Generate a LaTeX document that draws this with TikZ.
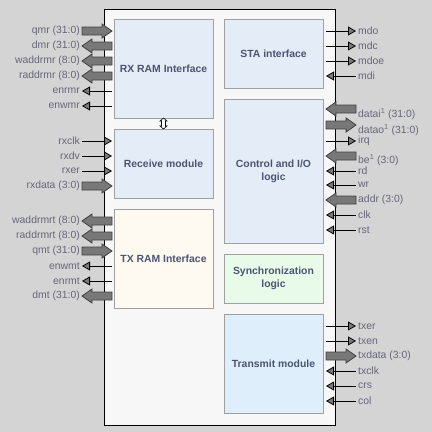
\documentclass[tikz,border=0pt]{standalone}
\usepackage{fontspec}
\setmainfont{Liberation Sans}
\usetikzlibrary{arrows.meta, calc, positioning}

\definecolor{bggray}{HTML}{D4D4D4}
\definecolor{chipfill}{HTML}{F7F7F7}
\definecolor{boxline}{HTML}{A0A0A0}
\definecolor{bluefill}{HTML}{E3ECF7}
\definecolor{txfill}{HTML}{DFEEFB}
\definecolor{creamfill}{HTML}{FEFAF2}
\definecolor{greenfill}{HTML}{E8FBE8}
\definecolor{blktext}{HTML}{4B5570}
\definecolor{pintext}{HTML}{66667A}
\definecolor{tipgray}{HTML}{7A7A7A}
\definecolor{busgray}{HTML}{787878}

\tikzset{
  blk/.style={draw=boxline, line width=1pt, outer sep=0pt, inner sep=0pt,
    minimum width=99pt, align=center, text=blktext,
    font=\bfseries\fontsize{10.4}{13}\selectfont},
  pinlabel/.style={font=\fontsize{10.4}{12}\selectfont, text=pintext, inner sep=2pt},
  sigin/.style={draw=black, line width=0.8pt,
    -{Triangle[length=8pt,width=9pt,fill=tipgray]}},
  sigout/.style={draw=black, line width=0.8pt,
    {Triangle[length=8pt,width=9pt,fill=tipgray]}-},
  % bus arrows: head at the pin (busin) or at the label (busout)
  busin/.style={draw=black!75, fill=busgray, line width=0.8pt,
    to path={let \p1=(\tikztostart), \p2=(\tikztotarget),
      \p3=($(\p2)!10pt!(\p1)$) in
      (\x1,\y2+4pt) -- (\x3,\y2+4pt) -- (\x3,\y2+7pt) -- (\x2,\y2)
      -- (\x3,\y2-7pt) -- (\x3,\y2-4pt) -- (\x1,\y2-4pt) -- cycle}},
  busout/.style={draw=black!75, fill=busgray, line width=0.8pt,
    to path={let \p1=(\tikztostart), \p2=(\tikztotarget),
      \p3=($(\p1)!10pt!(\p2)$) in
      (\x1,\y2) -- (\x3,\y2+7pt) -- (\x3,\y2+4pt) -- (\x2,\y2+4pt)
      -- (\x2,\y2-4pt) -- (\x3,\y2-4pt) -- (\x3,\y2-7pt) -- cycle}},
}

% left pin: name, y, kind, text
\newcommand{\lsig}[4]{%
  \node[pinlabel, anchor=east] (#1) at (82,#2) {#4};
  \coordinate (#1-pin) at (112,#2);
  \draw[#3] (#1.east) to (#1-pin);}
% right pin: [label options], name, y, kind, text
\newcommand{\rsig}[5][]{%
  \node[pinlabel, anchor=west, #1] (#2) at (356,#3) {#5};
  \coordinate (#2-pin) at (326,#3);
  \draw[#4] (#2.west) to (#2-pin);}

\begin{document}
\begin{tikzpicture}[x=1pt, y=-1pt]
    \fill[bggray] (0,0) rectangle (432,432); % background
    \useasboundingbox (0,0) rectangle (432,432);

    % the chip
    \draw[fill=chipfill, line width=1pt] (104,9) rectangle (335,425);

    % left column of blocks
    \node[blk, fill=bluefill, minimum height=99pt, anchor=north west] (rxram) at (114,19) {RX RAM Interface};
    \node[blk, fill=bluefill, minimum height=69pt, below=11pt of rxram] (receive) {Receive module};
    \node[blk, fill=creamfill, minimum height=99pt, below=11pt of receive] (txram) {TX RAM Interface};

    % right column of blocks
    \node[blk, fill=bluefill, minimum height=69pt, anchor=north west] (sta) at (224,19) {STA interface};
    \node[blk, fill=bluefill, minimum height=144pt, below=11pt of sta] (control) {Control and I/O\\logic};
    \node[blk, fill=greenfill, minimum height=49pt, below=11pt of control] (sync) {Synchronization\\logic};
    \node[blk, fill=txfill, minimum height=99pt, below=11pt of sync] (transmit) {Transmit module};

    % small link between RX RAM and receive module
    \coordinate (link) at ($(rxram.south)!0.5!(receive.north)$);
    \draw[fill=white, line width=0.6pt, shift={(link)}]
      (0,-5.5) -- (3.5,-2.5) -- (2,-2.5) -- (2,2.5) -- (3.5,2.5) -- (0,5.5)
      -- (-3.5,2.5) -- (-2,2.5) -- (-2,-2.5) -- (-3.5,-2.5) -- cycle;

    % RX RAM pins
    \lsig{qmr}{31}{busin}{qmr (31:0)}
    \lsig{dmr}{46}{busout}{dmr (31:0)}
    \lsig{waddrmr}{61}{busout}{waddrmr (8:0)}
    \lsig{raddrmr}{76}{busout}{raddrmr (8:0)}
    \lsig{enrmr}{91}{sigout}{enrmr}
    \lsig{enwmr}{106}{sigout}{enwmr}
    % receive pins
    \lsig{rxclk}{141}{sigin}{rxclk}
    \lsig{rxdv}{156}{sigin}{rxdv}
    \lsig{rxer}{171}{sigin}{rxer}
    \lsig{rxdata}{186}{busin}{rxdata (3:0)}
    % TX RAM pins
    \lsig{waddrmrt}{221}{busout}{waddrmrt (8:0)}
    \lsig{raddrmrt}{236}{busout}{raddrmrt (8:0)}
    \lsig{qmt}{251}{busin}{qmt (31:0)}
    \lsig{enwmt}{266}{sigout}{enwmt}
    \lsig{enrmt}{281}{sigout}{enrmt}
    \lsig{dmt}{296}{busout}{dmt (31:0)}

    % STA pins
    \rsig{mdo}{31}{sigout}{mdo}
    \rsig{mdc}{46}{sigout}{mdc}
    \rsig{mdoe}{61}{sigout}{mdoe}
    \rsig{mdi}{76}{sigin}{mdi}
    % control pins
    \rsig[yshift=-5pt]{datai}{109}{busin}{datai\textsuperscript{1} (31:0)}
    \rsig[yshift=-5pt]{datao}{125}{busout}{datao\textsuperscript{1} (31:0)}
    \rsig{irq}{141}{sigout}{irq}
    \rsig[yshift=-4pt]{be}{156}{busin}{be\textsuperscript{1} (3:0)}
    \rsig{rd}{171}{sigin}{rd}
    \rsig{wr}{185}{sigin}{wr}
    \rsig{addr}{200}{busin}{addr (3:0)}
    \rsig{clk}{215}{sigin}{clk}
    \rsig{rst}{230}{sigin}{rst}
    % transmit pins
    \rsig{txer}{326}{sigout}{txer}
    \rsig{txen}{341}{sigout}{txen}
    \rsig{txdata}{356}{busout}{txdata (3:0)}
    \rsig{txclk}{371}{sigin}{txclk}
    \rsig{crs}{386}{sigin}{crs}
    \rsig{col}{401}{sigin}{col}
\end{tikzpicture}
\end{document}
